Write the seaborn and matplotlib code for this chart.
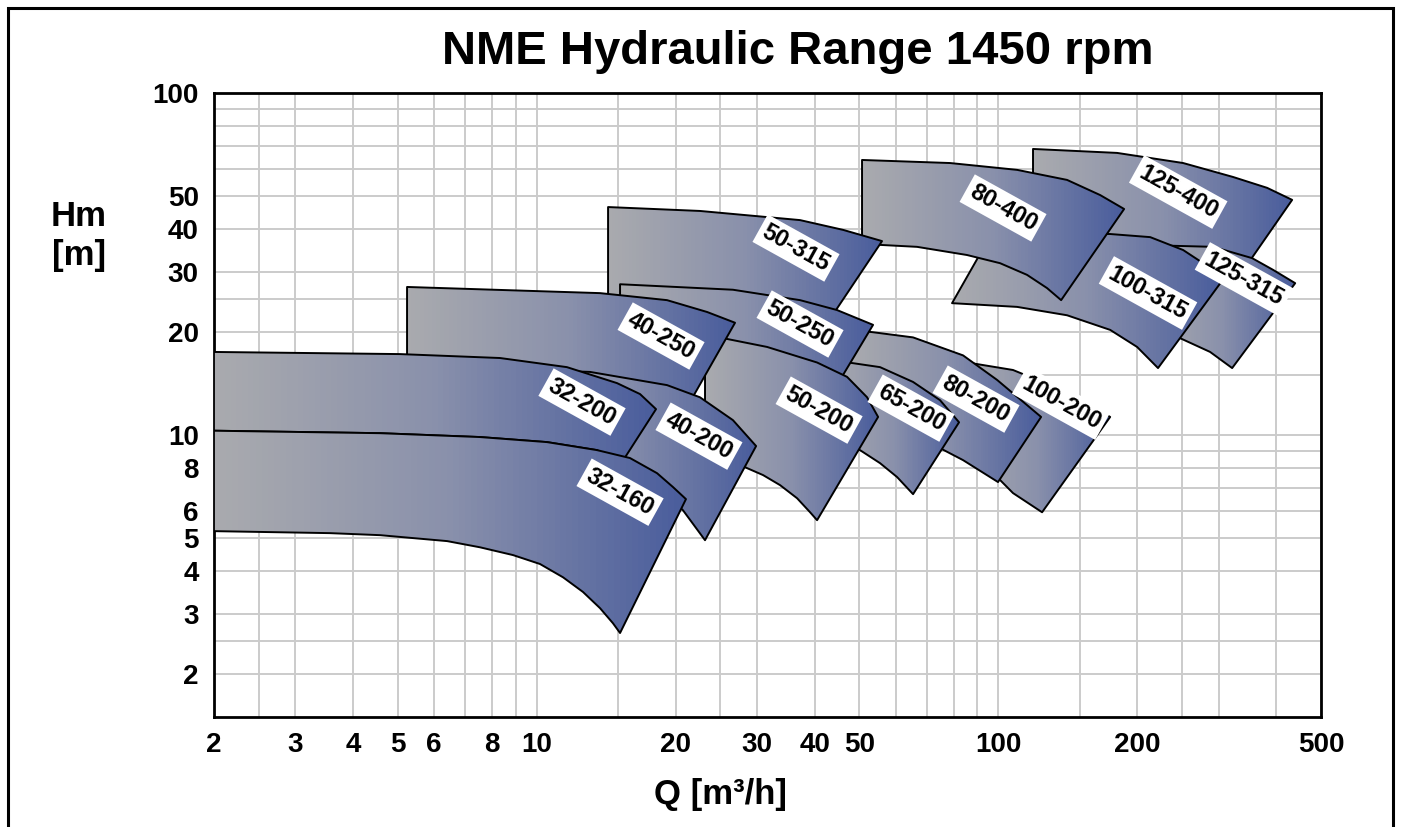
import matplotlib
matplotlib.use("Agg")
import matplotlib.pyplot as plt
import seaborn as sns
import numpy as np
from matplotlib.patches import Polygon, Rectangle
from matplotlib.colors import LinearSegmentedColormap
from matplotlib.ticker import NullFormatter

# --- pump ranges: upper curve (max impeller) and lower curve (min impeller), Q [m3/h], H [m]
q_top_125_400 = [118.9, 180.8, 251.4, 322.6, 382.2, 433.0]
h_top_125_400 = [68.6, 66.8, 62.4, 56.8, 52.8, 48.7]
q_bot_125_400 = [118.9, 172.1, 235.6, 334.0]
h_bot_125_400 = [48.7, 37.2, 34.75, 29.4]

q_top_125_315 = [213.3, 292.0, 354.7, 393.8, 439.6]
h_top_125_315 = [35.9, 35.5, 32.9, 30.4, 27.8]
q_bot_125_315 = [213.3, 247.6, 287.6, 321.0]
h_bot_125_315 = [21.0, 19.2, 17.5, 15.7]

q_top_100_315 = [93.6, 129.5, 174.7, 213.3, 251.4, 277.8, 303.8]
h_top_100_315 = [35.9, 39.0, 38.7, 37.9, 34.75, 31.8, 28.0]
q_bot_100_315 = [79.4, 109.8, 140.9, 174.7, 199.8, 221.8]
h_bot_100_315 = [24.3, 23.7, 22.4, 20.3, 18.1, 15.7]

q_top_80_400 = [50.68, 78.62, 109.8, 140.9, 166.2, 187.3]
h_top_80_400 = [63.7, 62.4, 59.6, 55.7, 50.3, 45.8]
q_bot_80_400 = [50.68, 66.68, 85.56, 100.9, 115.4, 127.5, 136.8]
h_bot_80_400 = [36.2, 35.5, 33.6, 31.8, 29.4, 26.9, 24.8]

q_top_50_315 = [14.28, 22.58, 37.2, 46.1, 56.0]
h_top_50_315 = [46.4, 45.2, 42.5, 39.8, 36.9]
q_bot_50_315 = [14.28, 24.98, 42.36]
h_bot_50_315 = [24.8, 24.0, 21.0]

q_top_100_200 = [84.72, 88.18, 107.6, 138.2, 174.7]
h_top_100_200 = [16.6, 16.2, 15.5, 13.5, 11.3]
q_bot_100_200 = [84.72, 100.9, 107.6, 124.4]
h_bot_100_200 = [8.57, 7.39, 6.77, 5.95]

q_top_80_200 = [47.74, 53.29, 65.37, 83.88, 99.38, 123.8]
h_top_80_200 = [20.3, 20.0, 19.3, 17.1, 14.5, 11.3]
q_bot_80_200 = [47.74, 61.26, 74.78, 83.88, 99.86]
h_bot_80_200 = [11.06, 10.34, 9.16, 8.45, 7.29]

q_top_65_200 = [43.2, 55.44, 65.37, 74.78, 82.22]
h_top_65_200 = [16.6, 15.8, 14.3, 12.65, 10.9]
q_bot_65_200 = [43.2, 50.16, 55.44, 60.36, 65.37]
h_bot_65_200 = [9.67, 9.04, 8.28, 7.54, 6.72]

q_top_50_250 = [15.16, 26.62, 37.2, 44.74, 53.55]
h_top_50_250 = [27.6, 26.6, 24.8, 23.2, 21.0]
q_bot_50_250 = [15.16, 24.98, 37.2, 43.42]
h_bot_50_250 = [20.3, 19.0, 16.6, 13.1]

q_top_50_200 = [23.16, 25.85, 31.56, 40.5, 47.03, 51.97, 54.91]
h_top_50_200 = [19.5, 19.1, 18.1, 16.3, 14.8, 12.9, 11.3]
q_bot_50_200 = [23.16, 28.55, 30.94, 33.68, 36.65, 39.11, 40.5]
h_bot_50_200 = [9.16, 8.01, 7.64, 7.14, 6.54, 5.95, 5.64]

q_top_40_250 = [5.24, 13.72, 19.16, 23.4, 26.9]
h_top_40_250 = [27.1, 26.0, 24.8, 22.9, 21.3]
q_bot_40_250 = [5.24, 8.33, 13.05, 19.16, 21.6]
h_bot_40_250 = [16.3, 16.1, 15.1, 13.8, 12.65]

q_top_40_200 = [7.54, 13.05, 19.16, 22.58, 26.62, 29.88]
h_top_40_200 = [15.7, 15.3, 14.0, 12.9, 11.06, 9.29]
q_bot_40_200 = [7.54, 13.72, 18.5, 20.75, 23.16]
h_bot_40_200 = [9.67, 8.45, 6.91, 6.03, 4.93]

q_top_32_200 = [2.0, 5.06, 8.33, 11.63, 14.93, 16.75, 18.14]
h_top_32_200 = [17.5, 17.25, 16.8, 15.8, 14.19, 13.18, 11.91]
q_bot_32_200 = [2.0, 4.58, 7.54, 10.53, 13.51, 15.31]
h_bot_32_200 = [10.3, 10.13, 9.87, 9.54, 9.04, 8.34]

q_top_32_160 = [2.0, 4.58, 7.54, 10.53, 13.51, 15.93, 18.23, 19.74, 21.06]
h_top_32_160 = [10.3, 10.13, 9.87, 9.54, 9.04, 8.57, 7.74, 7.05, 6.50]
q_bot_32_160 = [2.0, 3.57, 4.58, 6.40, 7.54, 8.89, 10.17, 11.41, 12.60, 13.72, 14.63, 15.16]
h_bot_32_160 = [5.24, 5.17, 5.10, 4.90, 4.70, 4.46, 4.20, 3.84, 3.48, 3.12, 2.82, 2.64]

# drawing order back to front, with label positions
models = ["125-400", "125-315", "100-315", "80-400", "50-315", "100-200", "80-200",
          "65-200", "50-250", "50-200", "40-250", "40-200", "32-200", "32-160"]
label_q = [245.3, 340.6, 211.0, 102.4, 36.46, 136.8, 89.49,
           64.71, 37.2, 40.91, 18.6, 22.47, 12.54, 15.16]
label_h = [51.35, 28.59, 26.02, 46.11, 35.22, 12.41, 12.74,
           11.99, 21.12, 11.83, 19.48, 9.93, 12.49, 6.81]

x_ticks = [2, 3, 4, 5, 6, 8, 10, 20, 30, 40, 50, 100, 200, 500]
x_grid = [2.5, 7, 9, 15, 25, 60, 70, 80, 90, 150, 250, 300, 400]
y_ticks = [2, 3, 4, 5, 6, 8, 10, 20, 30, 40, 50, 100]
y_grid = [2.5, 7, 9, 15, 25, 60, 70, 80, 90]

curves = {
    "125-400": (q_top_125_400, h_top_125_400, q_bot_125_400, h_bot_125_400),
    "125-315": (q_top_125_315, h_top_125_315, q_bot_125_315, h_bot_125_315),
    "100-315": (q_top_100_315, h_top_100_315, q_bot_100_315, h_bot_100_315),
    "80-400": (q_top_80_400, h_top_80_400, q_bot_80_400, h_bot_80_400),
    "50-315": (q_top_50_315, h_top_50_315, q_bot_50_315, h_bot_50_315),
    "100-200": (q_top_100_200, h_top_100_200, q_bot_100_200, h_bot_100_200),
    "80-200": (q_top_80_200, h_top_80_200, q_bot_80_200, h_bot_80_200),
    "65-200": (q_top_65_200, h_top_65_200, q_bot_65_200, h_bot_65_200),
    "50-250": (q_top_50_250, h_top_50_250, q_bot_50_250, h_bot_50_250),
    "50-200": (q_top_50_200, h_top_50_200, q_bot_50_200, h_bot_50_200),
    "40-250": (q_top_40_250, h_top_40_250, q_bot_40_250, h_bot_40_250),
    "40-200": (q_top_40_200, h_top_40_200, q_bot_40_200, h_bot_40_200),
    "32-200": (q_top_32_200, h_top_32_200, q_bot_32_200, h_bot_32_200),
    "32-160": (q_top_32_160, h_top_32_160, q_bot_32_160, h_bot_32_160),
}

sns.set_theme(style="white")
plt.rcParams["font.family"] = ["Liberation Sans", "DejaVu Sans"]
plt.rcParams["font.weight"] = "bold"
plt.rcParams["text.color"] = "black"
plt.rcParams["xtick.color"] = "black"
plt.rcParams["ytick.color"] = "black"

fig = plt.figure(figsize=(14.01, 8.27), dpi=100)
ax = fig.add_axes([0.1527, 0.1330, 0.7902, 0.7546])
ax.set_xscale("log")
ax.set_yscale("log")
ax.set_xlim(2, 500)
ax.set_ylim(1.5, 100)

cmap = LinearSegmentedColormap.from_list("pump", ["#a9aaae", "#8990ab", "#4a5d9c"])

for i, name in enumerate(models):
    qt, ht, qb, hb = curves[name]
    verts = np.column_stack([qt + qb[::-1], ht + hb[::-1]])
    outline = Polygon(verts, closed=True, facecolor="none", edgecolor="black",
                      lw=1.4, joinstyle="round", zorder=10 + 2 * i + 1)
    ax.add_patch(outline)
    q_all = qt + qb
    h_all = ht + hb
    x_edges = np.geomspace(min(q_all), max(q_all), 80)
    shade = np.linspace(0, 1, 79)[None, :]
    mesh = ax.pcolormesh(x_edges, [min(h_all), max(h_all)], shade, cmap=cmap,
                         shading="flat", zorder=10 + 2 * i)
    mesh.set_clip_path(outline)

for name, q, h in zip(models, label_q, label_h):
    ax.text(q, h, name, rotation=-29, rotation_mode="anchor", ha="center", va="center",
            fontsize=17, fontweight="bold", color="black", zorder=100,
            bbox=dict(boxstyle="square,pad=0.18", fc="white", ec="none"))

ax.set_xticks(x_ticks)
ax.set_xticklabels([str(v) for v in x_ticks])
ax.set_xticks(x_grid, minor=True)
ax.set_yticks(y_ticks)
ax.set_yticklabels([str(v) for v in y_ticks])
ax.set_yticks(y_grid, minor=True)
ax.xaxis.set_minor_formatter(NullFormatter())
ax.yaxis.set_minor_formatter(NullFormatter())
ax.grid(True, which="both", color="#cbcbcb", lw=1.4)
ax.set_axisbelow(True)
ax.tick_params(which="both", length=0, labelsize=20, pad=11, colors="black")
for lab in ax.get_xticklabels() + ax.get_yticklabels():
    lab.set_fontweight("bold")
for sp in ax.spines.values():
    sp.set_color("black")
    sp.set_linewidth(2)

fig.text(0.5696, 0.937, "NME Hydraulic Range 1450 rpm", ha="center", va="center",
         fontsize=34, fontweight="bold", color="black")
fig.text(0.0564, 0.7146, "Hm\n[m]", ha="center", va="center", fontsize=25,
         fontweight="bold", linespacing=1.2, color="black")
fig.text(0.514, 0.0387, "Q [m³/h]", ha="center", va="center", fontsize=25,
         fontweight="bold", color="black")

fig.add_artist(Rectangle((8 / 1401, -0.05), 1385 / 1401, 1.05 - 8 / 827,
                         transform=fig.transFigure, fill=False, ec="black", lw=2.2))

fig.savefig("out.png", dpi=100)
